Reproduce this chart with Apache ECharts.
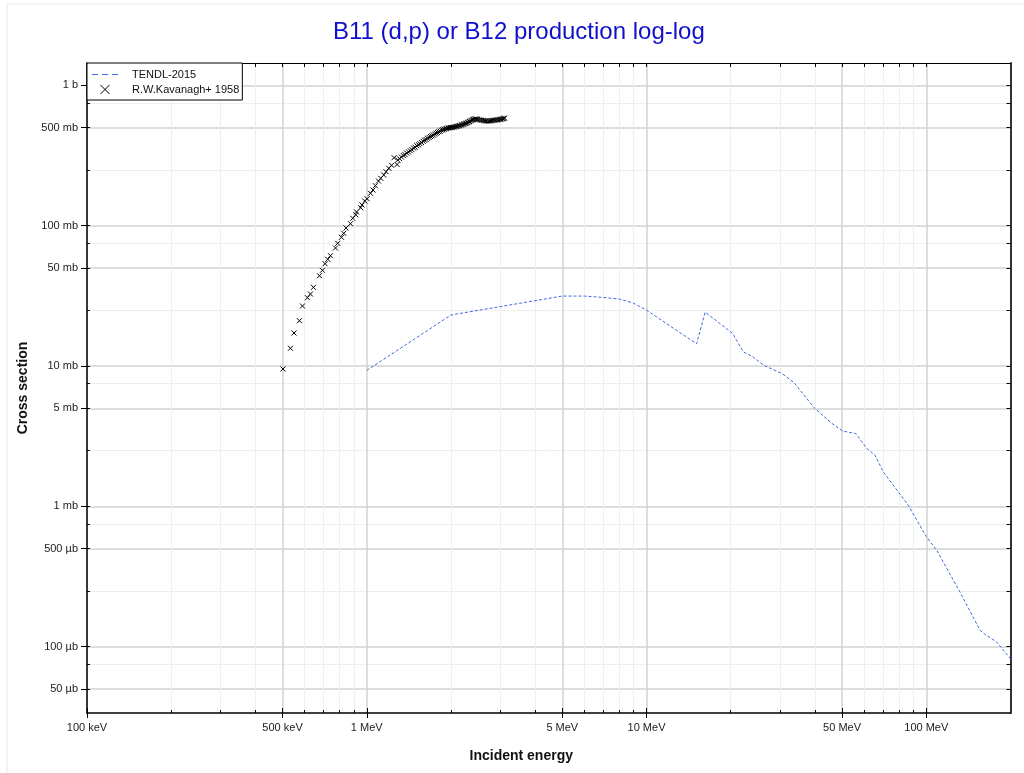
<!DOCTYPE html>
<html><head><meta charset="utf-8">
<script src="https://cdn.jsdelivr.net/npm/echarts@6/dist/echarts.min.js"></script>
<style>html,body{margin:0;padding:0;background:#fff}#c{width:1024px;height:773px}</style>
</head><body><div id="c"></div>
<script>
// ---- data (energy in MeV, cross section in mb) ----
const tendlE = [1, 2, 5, 6, 7, 8, 9, 10, 15.1, 16.2, 20.3, 22.2, 23.9, 26.3, 30.6, 33.7, 39.7, 45.6, 50.2, 56, 61.5, 65.6, 70.2, 86.2, 100, 109, 132, 155.6, 162, 178.5, 200];
const tendlS = [9.3, 23.1, 31.5, 31.5, 30.8, 30.0, 28.0, 25.0, 14.4, 24.2, 17.1, 12.6, 11.7, 10.1, 8.8, 7.6, 5.05, 3.95, 3.44, 3.3, 2.57, 2.31, 1.76, 1.02, 0.61, 0.486, 0.245, 0.131, 0.1225, 0.108, 0.082];

const expE = [0.502, 0.5335, 0.5495, 0.5745, 0.589, 0.6138, 0.6291, 0.6449, 0.6775, 0.6944, 0.7095, 0.7254, 0.7417, 0.7729, 0.7874, 0.8121, 0.8276, 0.8434, 0.8744, 0.8912, 0.9135, 0.9188, 0.9517, 0.962, 0.9836, 1.0025, 1.031, 1.053, 1.074, 1.101, 1.122, 1.15, 1.172, 1.199, 1.226, 1.252, 1.284, 1.291,
  1.31, 1.33, 1.35, 1.37, 1.39, 1.41, 1.43, 1.45, 1.47, 1.49, 1.51, 1.53, 1.55, 1.57, 1.59, 1.61, 1.63, 1.65, 1.67, 1.69, 1.71, 1.73, 1.75, 1.77, 1.79, 1.81, 1.83, 1.85, 1.87, 1.89, 1.91, 1.93, 1.95, 1.97, 1.99, 2.01, 2.03, 2.05, 2.07, 2.09, 2.11, 2.13, 2.15, 2.17, 2.19, 2.21, 2.23, 2.25, 2.27, 2.29, 2.31, 2.33, 2.35, 2.37, 2.39, 2.41, 2.43, 2.45, 2.47, 2.49, 2.52, 2.55, 2.58, 2.61, 2.64, 2.67, 2.70, 2.73, 2.76, 2.79, 2.82, 2.85, 2.88, 2.91, 2.94, 2.97, 3.00, 3.03, 3.06, 3.09, 3.11];
const expS = [9.52, 13.37, 17.19, 21.03, 26.76, 30.66, 32.58, 36.37, 43.99, 48.08, 53.57, 57.58, 61.08, 69.31, 74.85, 82.6, 88.2, 96.2, 103.3, 112.8, 119.7, 125.1, 134.3, 140.3, 149.8, 155.6, 170.1, 179.5, 192.6, 208.0, 217.5, 229.6, 242.3, 256.2, 269.2, 305.0, 272.7, 293.6,
  300, 308, 316, 321, 329, 335, 342, 348, 357, 362, 371, 377, 384, 391, 399, 406, 411, 419, 425, 432, 437, 442, 449, 455, 461, 467, 471, 479, 482, 486, 490, 492, 496, 498, 500, 501, 500, 504, 507, 509, 511, 514, 516, 520, 523, 527, 531, 534, 537, 542, 547, 552, 557, 563, 568, 571, 575, 576, 574, 571, 569, 566, 563, 561, 559, 557, 556, 556, 558, 560, 562, 563, 565, 566, 568, 570, 572, 574, 577, 580, 585];

// ---- tick values / labels ----
const xMajorTicks = [0.1, 0.5, 1, 5, 10, 50, 100];
const xMajorLabels = ['100 keV', '500 keV', '1 MeV', '5 MeV', '10 MeV', '50 MeV', '100 MeV'];
const xMinorTicks = [0.2, 0.3, 0.4, 0.6, 0.7, 0.8, 0.9, 2, 3, 4, 6, 7, 8, 9, 20, 30, 40, 60, 70, 80, 90];
const yMajorTicks = [1000, 500, 100, 50, 10, 5, 1, 0.5, 0.1, 0.05];
const yMajorLabels = ['1 b', '500 mb', '100 mb', '50 mb', '10 mb', '5 mb', '1 mb', '500 µb', '100 µb', '50 µb'];
const yMinorTicks = [750, 250, 75, 25, 7.5, 2.5, 0.75, 0.25, 0.075];

const L = Math.log10;
const xMin = L(0.1), xMax = L(200);
const yMin = L(0.0337), yMax = L(1442);
const FONT = '"Liberation Sans", Arial, sans-serif';

function labelFor(ticks, labels) {
  return function (v) {
    for (let i = 0; i < ticks.length; i++) if (Math.abs(L(ticks[i]) - v) < 1e-6) return labels[i];
    return '';
  };
}
const xMaj = xMajorTicks.map(L), xMin_ = xMinorTicks.map(L);
const yMaj = yMajorTicks.map(L), yMin_ = yMinorTicks.map(L);

const base = { type: 'value', min: xMin, max: xMax, gridIndex: 0 };
const xAxes = [
  Object.assign({}, base, {
    position: 'bottom',
    axisLine: { show: true, onZero: false, lineStyle: { color: '#000', width: 1.5 } },
    axisTick: { show: true, customValues: xMaj, inside: false, length: 5, lineStyle: { color: '#000', width: 1 } },
    axisLabel: { show: true, customValues: xMaj, formatter: labelFor(xMajorTicks, xMajorLabels), margin: 9, color: '#222', fontSize: 11, fontFamily: FONT },
    splitLine: { show: true, lineStyle: { color: '#d2d2d2', width: 1.5 } },
    name: 'Incident energy', nameLocation: 'middle', nameGap: 36,
    nameTextStyle: { fontSize: 14, fontWeight: 'bold', color: '#111', fontFamily: FONT, padding: [0, 55, 0, 0] }
  }),
  Object.assign({}, base, {
    position: 'bottom',
    axisLine: { show: false, onZero: false },
    axisTick: { show: true, customValues: xMin_, inside: true, length: 3, lineStyle: { color: '#000', width: 1 } },
    axisLabel: { show: false },
    splitLine: { show: true, lineStyle: { color: '#eeeeee', width: 1 } }
  }),
  Object.assign({}, base, {
    position: 'bottom',
    axisLine: { show: false, onZero: false },
    axisTick: { show: true, customValues: xMaj, inside: true, length: 5, lineStyle: { color: '#000', width: 1 } },
    axisLabel: { show: false },
    splitLine: { show: false }
  }),
  Object.assign({}, base, {
    position: 'top',
    axisLine: { show: true, onZero: false, lineStyle: { color: '#000', width: 1.2 } },
    axisTick: { show: true, customValues: xMaj.concat(xMin_), inside: true, length: 4, lineStyle: { color: '#000', width: 1 } },
    axisLabel: { show: false },
    splitLine: { show: false }
  })
];
const ybase = { type: 'value', min: yMin, max: yMax, gridIndex: 0 };
const yAxes = [
  Object.assign({}, ybase, {
    position: 'left',
    axisLine: { show: true, onZero: false, lineStyle: { color: '#000', width: 1.5 } },
    axisTick: { show: true, customValues: yMaj, inside: false, length: 6, lineStyle: { color: '#000', width: 1 } },
    axisLabel: { show: true, customValues: yMaj, formatter: labelFor(yMajorTicks, yMajorLabels), margin: 9, color: '#222', fontSize: 11, fontFamily: FONT },
    splitLine: { show: true, lineStyle: { color: '#d2d2d2', width: 1.5 } },
    name: 'Cross section', nameLocation: 'middle', nameGap: 53,
    nameTextStyle: { fontSize: 14, fontWeight: 'bold', color: '#111', fontFamily: FONT }
  }),
  Object.assign({}, ybase, {
    position: 'left',
    axisLine: { show: false, onZero: false },
    axisTick: { show: true, customValues: yMin_, inside: true, length: 3, lineStyle: { color: '#000', width: 1 } },
    axisLabel: { show: false },
    splitLine: { show: true, lineStyle: { color: '#eeeeee', width: 1 } }
  }),
  Object.assign({}, ybase, {
    position: 'left',
    axisLine: { show: false, onZero: false },
    axisTick: { show: true, customValues: yMaj, inside: true, length: 3, lineStyle: { color: '#000', width: 1 } },
    axisLabel: { show: false },
    splitLine: { show: false }
  }),
  Object.assign({}, ybase, {
    position: 'right',
    axisLine: { show: true, onZero: false, lineStyle: { color: '#333', width: 2 } },
    axisTick: { show: true, customValues: yMaj.concat(yMin_), inside: true, length: 4, lineStyle: { color: '#000', width: 1 } },
    axisLabel: { show: false },
    splitLine: { show: false }
  })
];

const tendlData = tendlE.map((e, i) => [L(e), L(tendlS[i])]);
const expData = expE.map((e, i) => [L(e), L(expS[i])]);
const CROSS = 'path://M0,0L10,10M10,0L0,10';

const chart = echarts.init(document.getElementById('c'), null, { renderer: 'canvas' });
chart.setOption({
  animation: false,
  backgroundColor: '#fff',
  textStyle: { fontFamily: FONT },
  title: {
    text: 'B11 (d,p) or B12 production log-log',
    left: 333, top: 20, padding: 0,
    textStyle: { color: '#1010cc', fontSize: 24, fontWeight: 'normal', fontFamily: FONT }
  },
  graphic: [{
    type: 'rect', silent: true, z: -10,
    shape: { x: 7, y: 4, width: 1040, height: 800 },
    style: { fill: 'none', stroke: '#e8e8e8', lineWidth: 1 }
  }],
  grid: { left: 87, right: 13.5, top: 63, bottom: 60, containLabel: false },
  xAxis: xAxes,
  yAxis: yAxes,
  legend: {
    left: 87, top: 63, orient: 'vertical',
    backgroundColor: '#fff', borderColor: '#000', borderWidth: 1, borderRadius: 0,
    padding: [6, 3, 5, 5], itemGap: 4, itemWidth: 26, itemHeight: 9,
    textStyle: { fontSize: 11, color: '#111', fontFamily: FONT, padding: [0, 0, 0, 9] },
    data: [
      { name: 'TENDL-2015', icon: 'path://M0,0L6,0L6,1L0,1Z M10,0L16,0L16,1L10,1Z M20,0L26,0L26,1L20,1Z', itemStyle: { color: '#3b6ef0' } },
      { name: 'R.W.Kavanagh+ 1958', icon: CROSS, itemStyle: { color: 'transparent', borderColor: '#000', borderWidth: 1 } }
    ],
    z: 10
  },
  series: [
    {
      name: 'TENDL-2015', type: 'line', data: tendlData, xAxisIndex: 0, yAxisIndex: 0,
      showSymbol: false, symbol: 'none',
      lineStyle: { color: '#4169e1', width: 1, type: [3, 2] },
      itemStyle: { color: '#4169e1' }, z: 3
    },
    {
      name: 'R.W.Kavanagh+ 1958', type: 'scatter', data: expData, xAxisIndex: 0, yAxisIndex: 0,
      symbol: CROSS, symbolSize: 5,
      itemStyle: { color: 'transparent', borderColor: '#000', borderWidth: 1, opacity: 1 }, z: 4
    }
  ]
});
</script>
</body></html>
